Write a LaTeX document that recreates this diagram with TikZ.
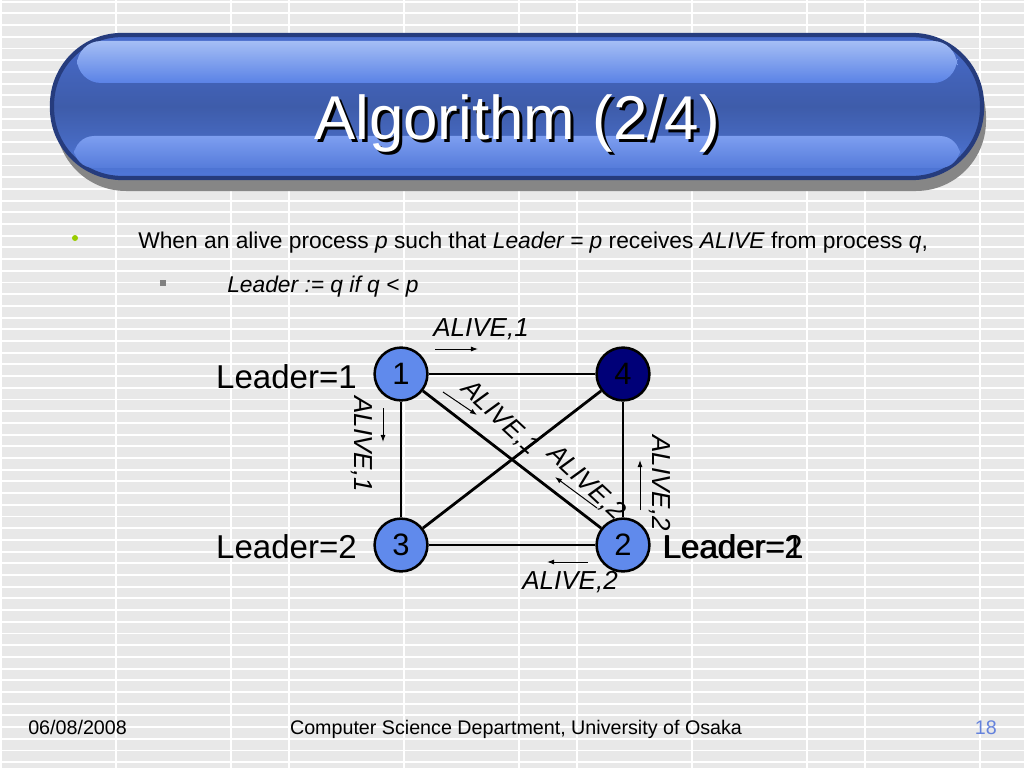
\documentclass[tikz,border=0pt]{standalone}
\usepackage{fontspec}
\setmainfont{Liberation Sans}
\usetikzlibrary{arrows.meta}
\definecolor{bggray}{RGB}{232,232,232}
\definecolor{procblue}{RGB}{96,138,236}
\definecolor{procnavy}{RGB}{0,0,120}
\definecolor{barborder}{RGB}{38,60,125}
\definecolor{bartop}{RGB}{72,108,205}
\definecolor{barmid}{RGB}{62,92,170}
\definecolor{barbot}{RGB}{80,120,218}
\definecolor{glosshi}{RGB}{165,190,245}
\definecolor{glosslo}{RGB}{90,130,230}
\definecolor{bulletgreen}{RGB}{153,204,0}
\definecolor{pagenum}{RGB}{100,130,220}
\tikzset{>={Latex[length=5pt,width=3.6pt]},
  proc/.style={circle,draw=black,line width=1.8pt,fill=procblue,inner sep=0pt,minimum size=1.32cm,font=\fontsize{22}{26}\selectfont},
  link/.style={draw=black,line width=2pt},
  leaderlbl/.style={inner sep=0pt,font=\fontsize{23.5}{28}\selectfont},
  alivelbl/.style={inner sep=0pt,font=\fontsize{18.5}{22}\selectfont\itshape},
  msgarrow/.style={draw=black,line width=0.7pt,->},
  bodytxt/.style={inner sep=0pt,anchor=base west,font=\fontsize{16.2}{19}\selectfont},
  foottxt/.style={inner sep=0pt,anchor=base,font=\fontsize{14}{17}\selectfont}}

\begin{document}
\begin{tikzpicture}[x=0.025cm,y=-0.025cm]
\useasboundingbox (0,0) rectangle (1024,768);
% background stripes
\fill[bggray] (0,0) rectangle (1024,768);
\foreach \k in {0,...,65} \draw[white,line width=1.4pt] (0,1.7+11.7*\k) -- (1024,1.7+11.7*\k);
\foreach \x in {1,116,231,289,404,519,577,692,807,865,980} \draw[white,line width=1.4pt] (\x,0) -- (\x,768);
% title bar
\fill[gray!95,rounded corners=1.75cm] (56,47) rectangle (986,191);
\shade[top color=bartop,bottom color=barbot,middle color=barmid,rounded corners=1.75cm,draw=barborder,line width=3pt] (52,35) rectangle (982,178);
\shade[top color=glosshi,bottom color=glosslo,rounded corners=0.6cm] (77,41) rectangle (957,83);
\shade[top color={rgb,255:red,125;green,158;blue,240},bottom color=glosslo!95!black,rounded corners=0.5cm] (74,136) rectangle (960,168);
\node[inner sep=0pt,anchor=base,font=\fontsize{44}{50}\selectfont,black] (titleshadow) at (520,143) {Algorithm (2/4)};
\node[inner sep=0pt,anchor=base,font=\fontsize{44}{50}\selectfont,white] (title) at (517,140) {Algorithm (2/4)};
% bullets
\fill[bulletgreen] (75,238) circle (3);
\fill[gray] (160,280) rectangle (166,286);
\node[bodytxt] (line1) at (138,248) {When an alive process \textit{p} such that \textit{Leader = p} receives \textit{ALIVE} from process \textit{q},};
\node[bodytxt] (line2) at (227,292) {\textit{Leader := q if q < p}};
% processes
\node[proc] (p1) at (401,374) {1};
\node[proc,fill=procnavy] (p4) at (623,374) {4};
\node[proc] (p3) at (401,545) {3};
\node[proc] (p2) at (623,545) {2};
\path[link] (p1) edge (p4);
\path[link] (p1) edge (p3);
\path[link] (p3) edge (p2);
\path[link] (p4) edge (p2);
\path[link] (p1) edge (p2);
\path[link] (p3) edge (p4);
% leader values
\node[leaderlbl,anchor=base east] (lead1) at (357,388) {Leader=1};
\node[leaderlbl,anchor=base east] (lead3) at (357,558) {Leader=2};
\node[leaderlbl,anchor=base west] (lead2a) at (662,558) {Leader=2};
\node[leaderlbl,anchor=base west] (lead2b) at (663,558) {Leader=1};
% messages
\node[alivelbl] (m14) at (481,329) {ALIVE,1};
\node[alivelbl,rotate=-90] (m13) at (362,444) {ALIVE,1};
\node[alivelbl,rotate=-43] (m12) at (500,418) {ALIVE,1};
\node[alivelbl,rotate=-43] (m21) at (586,483) {ALIVE,2};
\node[alivelbl,rotate=-90] (m24) at (660,483) {ALIVE,2};
\node[alivelbl] (m23) at (570,582) {ALIVE,2};
\coordinate (a14s) at (435,349); \coordinate (a14e) at (478,349);
\coordinate (a13s) at (383,408); \coordinate (a13e) at (383,442);
\coordinate (a12s) at (443,392); \coordinate (a12e) at (477,415);
\coordinate (a21s) at (597,508); \coordinate (a21e) at (555,477);
\coordinate (a24s) at (640,510); \coordinate (a24e) at (640,460);
\coordinate (a23s) at (588,562); \coordinate (a23e) at (547,562);
\draw[msgarrow] (a14s) -- (a14e);
\draw[msgarrow] (a13s) -- (a13e);
\draw[msgarrow] (a12s) -- (a12e);
\draw[msgarrow] (a21s) -- (a21e);
\draw[msgarrow] (a24s) -- (a24e);
\draw[msgarrow] (a23s) -- (a23e);
% footer
\node[foottxt,anchor=base west] (date) at (28,734) {06/08/2008};
\node[foottxt] (dept) at (516,734) {Computer Science Department, University of Osaka};
\node[foottxt,anchor=base east,text=pagenum] (page) at (997,734) {18};
\end{tikzpicture}
\end{document}
